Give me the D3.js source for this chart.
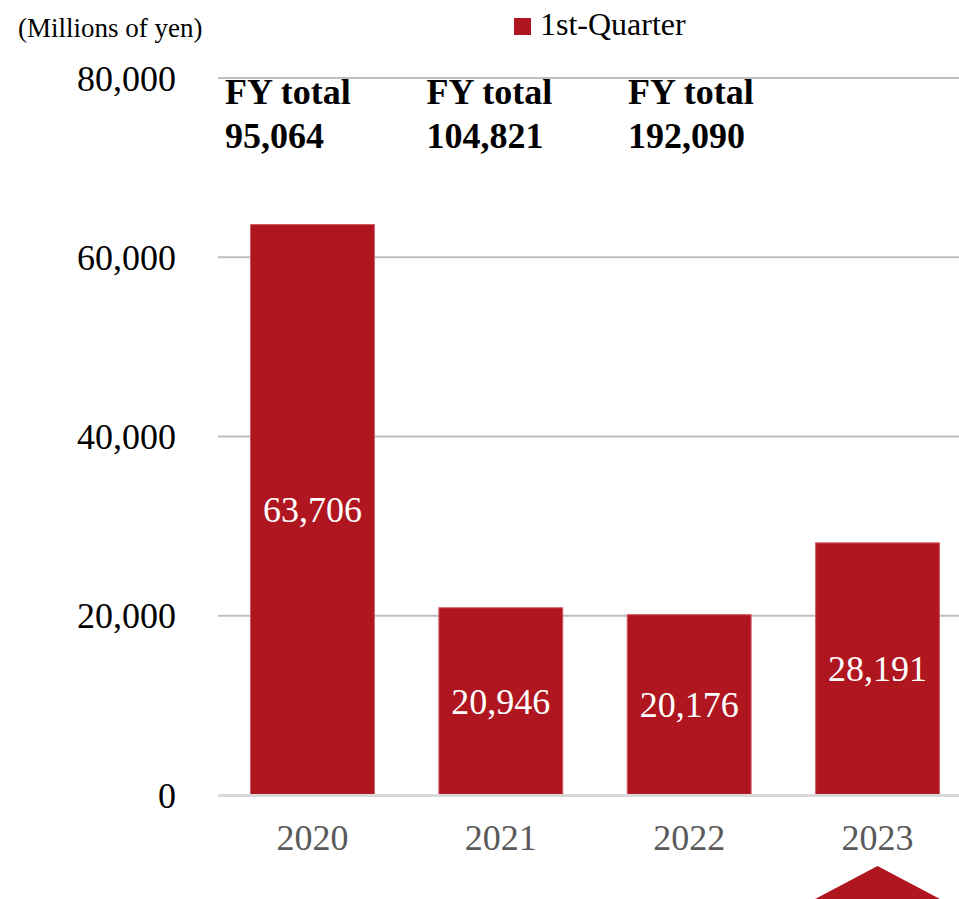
<!DOCTYPE html>
<html>
<head>
<meta charset="utf-8">
<script src="https://cdn.jsdelivr.net/npm/d3@7"></script>
<style>
  html, body { margin: 0; padding: 0; background: #fff; }
  svg { display: block; }
</style>
</head>
<body>
<svg id="chart" width="959" height="899"></svg>
<script>
const years = ["2020", "2021", "2022", "2023"];
const q1Values = [63706, 20946, 20176, 28191];
const fyTotals = [95064, 104821, 192090];
const yTicks = [0, 20000, 40000, 60000, 80000];
const seriesName = "1st-Quarter";
const unitLabel = "(Millions of yen)";
const highlightYear = "2023";

const barColor = "#b01620";
const FONT = "Liberation Serif";
const svg = d3.select("#chart").attr("font-family", FONT);
const fmt = d3.format(",");

const y = d3.scaleLinear().domain([0, 80000]).range([795, 78]);
const x = d3.scaleBand().domain(years).range([218, 972]).paddingInner(0.337).paddingOuter(0.17);

// gridlines
svg.append("g").selectAll("line").data(yTicks.filter(d => d !== 0)).join("line")
  .attr("x1", 218).attr("x2", 959)
  .attr("y1", d => y(d)).attr("y2", d => y(d))
  .attr("stroke", "#bfbfbf").attr("stroke-width", 2);

// y tick labels
svg.append("g").selectAll("text").data(yTicks).join("text")
  .attr("font-family", FONT)
  .attr("x", 176).attr("y", d => y(d)).attr("dy", "0.35em")
  .attr("text-anchor", "end").attr("font-size", 36).attr("fill", "#000")
  .text(d => fmt(d));

// bars
const data = years.map((yr, i) => ({ year: yr, value: q1Values[i] }));
svg.append("g").selectAll("rect").data(data).join("rect")
  .attr("x", d => x(d.year) + 0.5).attr("width", x.bandwidth() - 1)
  .attr("y", d => y(d.value) + 0.5).attr("height", d => y(0) - y(d.value) - 0.5)
  .attr("fill", barColor).attr("stroke", "#d35a64").attr("stroke-width", 1);

// baseline
svg.append("line").attr("x1", 218).attr("x2", 959)
  .attr("y1", y(0) + 0.5).attr("y2", y(0) + 0.5)
  .attr("stroke", "#d9d9d9").attr("stroke-width", 3);

// value labels
svg.append("g").selectAll("text").data(data).join("text")
  .attr("font-family", FONT)
  .attr("x", d => x(d.year) + x.bandwidth() / 2)
  .attr("y", d => (y(d.value) + y(0)) / 2).attr("dy", "0.35em")
  .attr("text-anchor", "middle").attr("font-size", 36).attr("fill", "#fff")
  .text(d => fmt(d.value));

// x labels
svg.append("g").selectAll("text").data(years).join("text")
  .attr("font-family", FONT)
  .attr("x", d => x(d) + x.bandwidth() / 2).attr("y", 850)
  .attr("text-anchor", "middle").attr("font-size", 36).attr("fill", "#595959")
  .text(d => d);

// FY total annotations
const fyX = i => 225 + i * 201.5;
const fyG = svg.append("g").attr("font-family", FONT).attr("font-weight", "bold").attr("font-size", 36).attr("fill", "#000");
fyTotals.forEach((v, i) => {
  fyG.append("text").attr("font-family", FONT).attr("x", fyX(i)).attr("y", 104).text("FY total");
  fyG.append("text").attr("font-family", FONT).attr("x", fyX(i)).attr("y", 148).text(fmt(v));
});

// unit label
svg.append("text").attr("font-family", FONT).attr("x", 18).attr("y", 37).attr("font-size", 27).attr("fill", "#000").text(unitLabel);

// legend
svg.append("rect").attr("x", 514).attr("y", 18).attr("width", 17).attr("height", 17).attr("fill", barColor);
svg.append("text").attr("font-family", FONT).attr("x", 540).attr("y", 35).attr("font-size", 32).attr("fill", "#000").text(seriesName);

// highlight triangle under 2023
const tx0 = x(highlightYear), tx1 = x(highlightYear) + x.bandwidth();
svg.append("path")
  .attr("d", `M${tx0},899 L${(tx0 + tx1) / 2},866 L${tx1},899 Z`)
  .attr("fill", barColor);
</script>
</body>
</html>
